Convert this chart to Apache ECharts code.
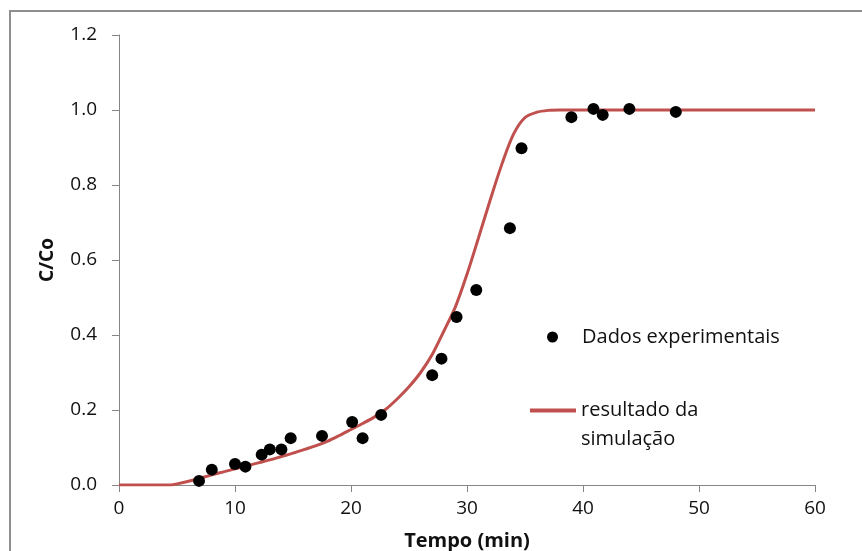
<!DOCTYPE html>
<html>
<head>
<meta charset="utf-8">
<script src="https://cdn.jsdelivr.net/npm/echarts@6/dist/echarts.min.js"></script>
<style>
html,body{margin:0;padding:0;background:#fff;}
#chart{width:862px;height:551px;}
</style>
</head>
<body>
<div id="chart"></div>
<script>
// Experimental data (Tempo in min, C/Co)
const expTime = [6.9, 8.0, 10.0, 10.9, 12.3, 13.0, 14.0, 14.8, 17.5, 20.1, 21.0, 22.6, 27.0, 27.8, 29.1, 30.8, 33.7, 34.7, 39.0, 40.9, 41.7, 44.0, 48.0];
const expValue = [0.011, 0.041, 0.056, 0.049, 0.081, 0.095, 0.095, 0.125, 0.131, 0.168, 0.125, 0.187, 0.293, 0.337, 0.448, 0.520, 0.685, 0.898, 0.981, 1.003, 0.987, 1.003, 0.995];

// Simulation curve
const simTime = [0, 4, 4.5, 5, 6, 7, 8, 9, 10, 11, 12, 13, 14, 15, 16, 17, 18, 19, 20, 21, 22, 23, 24, 25, 26, 27, 28, 29, 30, 31, 32, 33, 34, 35, 36, 37, 38, 60];
const simValue = [0, 0, 0, 0.003, 0.01, 0.018, 0.027, 0.035, 0.043, 0.051, 0.059, 0.067, 0.076, 0.085, 0.095, 0.105, 0.117, 0.132, 0.148, 0.164, 0.181, 0.202, 0.230, 0.262, 0.300, 0.348, 0.410, 0.475, 0.562, 0.660, 0.760, 0.855, 0.935, 0.980, 0.994, 0.999, 1.0, 1.0];

const xTicks = [0, 10, 20, 30, 40, 50, 60];
const yTicks = [0.0, 0.2, 0.4, 0.6, 0.8, 1.0, 1.2];

const FONT = 'Open Sans';
const chart = echarts.init(document.getElementById('chart'), null, {renderer: 'canvas'});
const axisColor = '#868686';
const textColor = '#111';

chart.setOption({
  animation: false,
  backgroundColor: '#fff',
  textStyle: {fontFamily: FONT},
  graphic: [{
    type: 'rect',
    shape: {x: 10, y: 11, width: 900, height: 600},
    style: {fill: 'none', stroke: '#8f8f8f', lineWidth: 2},
    silent: true, z: -1
  }],
  grid: {left: 119, right: 47, top: 35, bottom: 66, containLabel: false, outerBoundsMode: 'none'},
  legend: [{
    data: [{name: 'Dados experimentais', icon: 'circle', itemStyle: {color: '#000', opacity: 1}}],
    left: 542, top: 322,
    itemWidth: 11, itemHeight: 11, itemGap: 0,
    textStyle: {fontFamily: FONT, fontSize: 20, color: textColor, padding: [0, 0, 0, 19]},
    selectedMode: false
  }, {
    data: [{name: 'resultado da simulação', icon: 'rect'}],
    left: 525, top: 362,
    itemWidth: 46, itemHeight: 4, itemGap: 0,
    formatter: () => ' \nresultado da\nsimulação',
    textStyle: {fontFamily: FONT, fontSize: 20, color: textColor, lineHeight: 29},
    selectedMode: false
  }],
  xAxis: {
    type: 'value', min: 0, max: 60, interval: 10,
    name: 'Tempo (min)', nameLocation: 'middle', nameGap: 46,
    nameTextStyle: {fontFamily: FONT, fontSize: 20, fontWeight: 'bold', color: textColor},
    axisLine: {show: true, lineStyle: {color: axisColor, width: 1}},
    axisTick: {show: true, inside: false, length: 7, lineStyle: {color: axisColor}},
    axisLabel: {margin: 14, fontFamily: FONT, fontSize: 19, color: textColor, formatter: v => String(v)},
    splitLine: {show: false}
  },
  yAxis: {
    type: 'value', min: 0, max: 1.2, interval: 0.2,
    name: 'C/Co', nameLocation: 'middle', nameGap: 62, nameRotate: 90,
    nameTextStyle: {fontFamily: FONT, fontSize: 19, fontWeight: 'bold', color: textColor},
    axisLine: {show: true, lineStyle: {color: axisColor, width: 1}},
    axisTick: {show: true, inside: false, length: 7, lineStyle: {color: axisColor}},
    axisLabel: {margin: 22, fontFamily: FONT, fontSize: 19, color: textColor, formatter: v => v.toFixed(1)},
    splitLine: {show: false}
  },
  series: [{
    name: 'resultado da simulação',
    type: 'line',
    data: simTime.map((t, i) => [t, simValue[i]]),
    smooth: 0.3,
    showSymbol: false,
    lineStyle: {color: '#c0504d', width: 3},
    itemStyle: {color: '#c0504d'},
    z: 2
  }, {
    name: 'Dados experimentais',
    type: 'scatter',
    data: expTime.map((t, i) => [t, expValue[i]]),
    symbol: 'circle',
    symbolSize: 12,
    itemStyle: {color: '#000', opacity: 1},
    z: 3
  }]
});
</script>
</body>
</html>
